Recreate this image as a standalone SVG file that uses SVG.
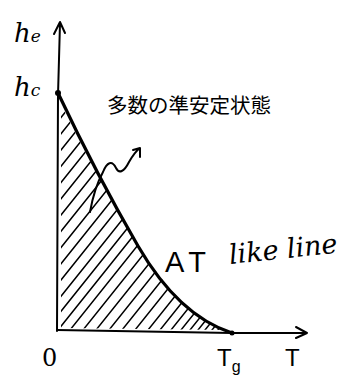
<svg xmlns="http://www.w3.org/2000/svg" width="347" height="378" viewBox="0 0 347 378">
<style>
.ax{fill:none;stroke:#000;stroke-width:2;stroke-linecap:round;stroke-linejoin:round}
.cv{fill:none;stroke:#000;stroke-width:3.2;stroke-linecap:round}
.ht{stroke:#000;stroke-width:1.5;stroke-linecap:round}
.lb{font-family:"DejaVu Serif",serif;font-style:italic;fill:#000}
.tx{font-family:"Liberation Sans",sans-serif;fill:#000}
</style>
<defs>
<clipPath id="reg">
<path d="M61,104 C86,155 114,205 139,246 S193,318 226,330 L61,328 Z"/>
</clipPath>
</defs>
<rect width="347" height="378" fill="#fff"/>
<g id="hatch" clip-path="url(#reg)">
<path class="ht" d="M-130,340 l300,-375 M-117,340 l300,-375 M-104,340 l300,-375 M-91,340 l300,-375 M-78,340 l300,-375 M-65,340 l300,-375 M-52,340 l300,-375 M-39,340 l300,-375 M-26,340 l300,-375 M-13,340 l300,-375 M0,340 l300,-375 M13,340 l300,-375 M26,340 l300,-375 M38,340 l300,-375 M50,340 l300,-375 M62,340 l300,-375 M75,340 l300,-375 M88,340 l300,-375 M101,340 l300,-375 M114,340 l300,-375 M127,340 l300,-375 M140,340 l300,-375 M152,340 l300,-375 M163,340 l300,-375 M173,340 l300,-375 M182,340 l300,-375 M190,340 l300,-375 M197,340 l300,-375 M204,340 l300,-375 M210,340 l300,-375 M216,340 l300,-375 M222,340 l300,-375"/>
</g>
<g id="axes">
<path class="ax" d="M57,331 L58,95 L60,23 M54,34 L60,22 L65,33"/>
<path class="ax" d="M57,330 L232,333 L307,333 M296,327 L307,333 L296,338"/>
</g>
<g id="connectors">
<path class="cv" d="M58,93 C85,150 113,203 138,246 S195,321 232,333"/>
<path class="ax" d="M90,212 C93,195 97,183 103,172 C107,162 112,160 116,168 C119,174 124,172 129,162 C133,155 136,151 140,148 M133,150 L140,148 L140,157"/>
<circle cx="58" cy="93" r="3"/>
<circle cx="232" cy="333" r="2.5"/>
</g>
<g id="labels">
<text class="lb" x="14" y="42" font-size="26">h<tspan font-size="17">e</tspan></text>
<text class="lb" x="14" y="96" font-size="26">h<tspan font-size="17">c</tspan></text>
<text x="107" y="113" font-size="20.5" style="font-family:'Noto Sans CJK JP',sans-serif">多数の準安定状態</text>
<text class="tx" x="165" y="272" font-size="29">A<tspan dx="6">T</tspan></text>
<text class="lb" x="230" y="264" font-size="27" transform="rotate(-6 230 264)">like line</text>
<text class="lb" x="42" y="366" font-size="24" style="font-style:normal">0</text>
<text class="tx" x="217" y="366" font-size="24">T<tspan font-size="16" dy="6">g</tspan></text>
<text class="tx" x="285" y="366" font-size="24">T</text>
</g>
</svg>
